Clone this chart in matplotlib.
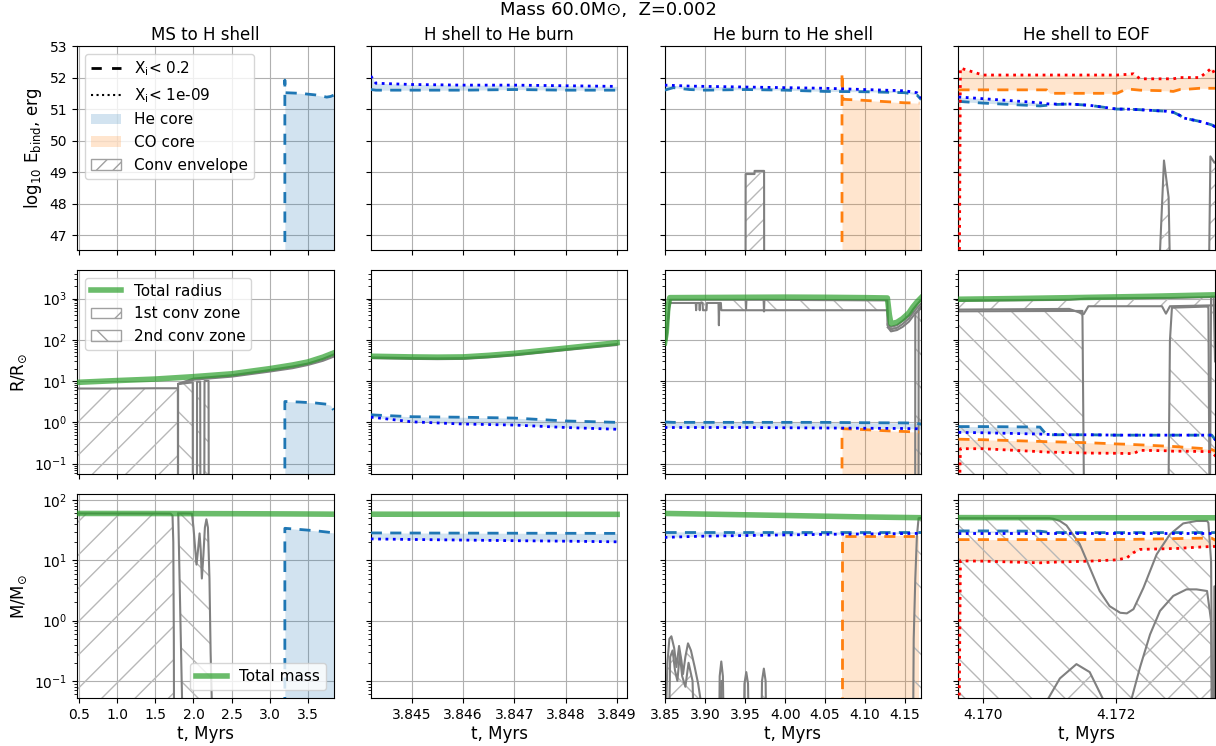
import numpy as np
import matplotlib
matplotlib.use("Agg")
import matplotlib.pyplot as plt
import matplotlib.patches as mpatches
from matplotlib.lines import Line2D
from matplotlib.ticker import FormatStrFormatter, FixedLocator

# ======================= DATA =======================
suptitle = "Mass 60.0M\u2299,  Z=0.002"
col_titles = ["MS to H shell", "H shell to He burn", "He burn to He shell", "He shell to EOF"]
row_ylabels = [r"log$_{10}$ E$_{\rm bind}$, erg", r"R/R$_{\odot}$", r"M/M$_{\odot}$"]
xlabel = "t, Myrs"
col_xlim = [(0.47, 3.84), (3.8442, 3.8492), (3.849, 4.1704), (4.16963, 4.1735)]
col_xticks = [[0.5, 1.0, 1.5, 2.0, 2.5, 3.0, 3.5],
              [3.845, 3.846, 3.847, 3.848, 3.849],
              [3.85, 3.90, 3.95, 4.00, 4.05, 4.10, 4.15],
              [4.170, 4.172]]
col_xfmt = ["%.1f", "%.3f", "%.2f", "%.3f"]
row_ylim = [(46.53, 53.0), (0.056, 4900.0), (0.052, 126.0)]
E_yticks = [47, 48, 49, 50, 51, 52, 53]
E_FLOOR = 46.0
LOG_FLOOR = 1e-3

# ---------- column 1: MS to H shell ----------
c1_t_tot = [0.47, 1.0, 1.5, 2.0, 2.5, 3.0, 3.3, 3.5, 3.7, 3.84]
c1_R_tot = [9.3, 10.3, 11.2, 12.8, 15.0, 20.0, 24.5, 29.0, 38.0, 48.0]
c1_M_tot = [60.0, 59.9, 59.8, 59.6, 59.4, 59.1, 58.9, 58.7, 58.5, 58.3]

c1_t_he = [3.2, 3.2, 3.205, 3.4, 3.6, 3.75, 3.8, 3.84]
c1_E_he = [40.0, 51.92, 51.52, 51.50, 51.45, 51.38, 51.40, 51.44]
c1_R_he = [1e-3, 3.2, 3.2, 3.1, 2.95, 2.75, 2.6, 2.0]
c1_M_he = [1e-3, 34.0, 34.0, 32.5, 31.0, 29.5, 29.0, 28.5]

c1_Rz1_t = [0.47, 1.0, 1.5, 1.795, 1.797]
c1_Rz1_top = [6.6, 6.6, 6.7, 6.7, 1e-3]
c1_Rz2_t = [1.797, 1.798, 1.99, 1.992, 2.045, 2.047, 2.088, 2.092, 2.141, 2.145, 2.198, 2.202]
c1_Rz2_top = [1e-3, 8.5, 9.3, 1e-3, 1e-3, 9.6, 9.7, 1e-3, 1e-3, 10.0, 10.1, 1e-3]
c1_Rz3_t = [1.80, 2.0, 2.5, 3.0, 3.3, 3.5, 3.7, 3.84]
c1_Rz3_top = [8.6, 11.5, 13.8, 18.5, 22.5, 26.5, 34.5, 44.0]
c1_Rz3_bot = [8.4, 10.8, 12.8, 17.0, 20.5, 24.5, 31.0, 39.0]

c1_Mz1_t = [0.47, 1.0, 1.5, 1.70, 1.725, 1.735, 1.742, 1.747]
c1_Mz1_top = [60.0, 59.9, 59.8, 59.6, 55.0, 20.0, 0.5, 1e-3]
c1_Mz2_t = [1.80, 1.8125, 1.825, 1.8375, 1.85, 1.86, 1.9, 1.96, 1.98, 2.0, 2.02, 2.04,
            2.06, 2.08, 2.095, 2.11, 2.13, 2.15, 2.17, 2.19, 2.21, 2.225, 2.24, 2.245]
c1_Mz2_top = [60.0, 60.0, 60.0, 60.0, 60.0, 60.0, 59.9, 59.8, 59.5, 35.0, 17.0, 8.5,
              15.0, 28.0, 15.0, 5.0, 12.0, 35.0, 48.0, 35.0, 5.0, 0.3, 0.05, 1e-3]
c1_Mz2_bot = [59.0, 10.0, 1.7, 0.29, 0.05, 1e-3, 1e-3, 1e-3, 1e-3, 1e-3, 1e-3, 1e-3,
              1e-3, 1e-3, 1e-3, 1e-3, 1e-3, 1e-3, 1e-3, 1e-3, 1e-3, 1e-3, 1e-3, 1e-3]

# ---------- column 2: H shell to He burn ----------
c2_t_tot = [3.8442, 3.845, 3.8455, 3.846, 3.8465, 3.847, 3.848, 3.849]
c2_R_tot = [40.0, 38.5, 38.0, 38.5, 42.0, 47.0, 63.0, 85.0]
c2_M_tot = [58.3, 58.2, 58.2, 58.2, 58.1, 58.1, 58.1, 58.0]
c2_env_top = [37.5, 36.0, 35.5, 36.0, 39.3, 44.0, 59.0, 79.0]
c2_env_bot = [36.0, 34.5, 34.0, 34.5, 37.5, 42.0, 56.5, 75.0]

c2_t_he = [3.8442, 3.8443, 3.845, 3.846, 3.847, 3.848, 3.849]
c2_E_hd = [51.62, 51.60, 51.60, 51.60, 51.62, 51.60, 51.60]
c2_E_hdot = [52.05, 51.82, 51.78, 51.76, 51.76, 51.74, 51.72]
c2_R_hd = [1.53, 1.50, 1.37, 1.33, 1.27, 1.08, 1.00]
c2_R_hdot = [1.33, 1.30, 1.03, 0.91, 0.86, 0.75, 0.68]
c2_M_hd = [28.5, 28.5, 28.4, 28.3, 28.2, 28.1, 28.0]
c2_M_hdot = [22.7, 22.6, 22.2, 21.7, 21.2, 20.8, 20.3]

# ---------- column 3: He burn to He shell ----------
c3_t_tot = [3.849, 3.851, 3.853, 3.8555, 3.9, 3.95, 4.0, 4.05, 4.1, 4.128, 4.1305, 4.1325,
            4.14, 4.147, 4.155, 4.16, 4.165, 4.1704]
c3_R_tot = [85, 150, 600, 1050, 1060, 1070, 1080, 1070, 1050, 1030, 400, 245,
            265, 325, 450, 625, 820, 1050]
c3_tM_tot = [3.849, 3.9, 3.95, 4.0, 4.05, 4.1, 4.1704]
c3_M_tot = [60.0, 58.5, 57.0, 55.5, 54.0, 52.5, 51.0]

c3_t_he = [3.849, 3.86, 3.88, 3.9, 3.95, 4.0, 4.05, 4.1, 4.15, 4.165, 4.1704]
c3_E_hd = [51.60, 51.68, 51.62, 51.60, 51.62, 51.60, 51.56, 51.55, 51.52, 51.45, 51.30]
c3_E_hdot = [51.76, 51.75, 51.73, 51.72, 51.70, 51.68, 51.66, 51.62, 51.58, 51.52, 51.35]
c3_R_hd = [1.02, 1.0, 1.0, 1.0, 1.0, 1.0, 1.0, 0.98, 0.97, 0.95, 0.90]
c3_R_hdot = [0.75, 0.75, 0.75, 0.75, 0.75, 0.74, 0.73, 0.72, 0.71, 0.70, 0.68]
c3_M_hd = [29.7, 29.7, 29.7, 29.7, 29.7, 29.7, 29.7, 29.7, 29.7, 29.7, 29.7]
c3_M_hdot = [24.0, 24.3, 24.8, 25.2, 25.8, 26.4, 27.0, 27.4, 27.8, 28.0, 28.2]

c3_t_co = [4.0712, 4.0712, 4.0725, 4.09, 4.11, 4.13, 4.15, 4.168]
c3_E_co = [40.0, 52.16, 51.31, 51.29, 51.26, 51.23, 51.20, 51.19]
c3_R_co = [1e-3, 0.72, 0.70, 0.68, 0.65, 0.62, 0.60, 0.58]
c3_M_co = [1e-3, 25.6, 25.6, 25.6, 25.6, 25.6, 25.6, 25.6]

c3_Ez_t = [3.9504, 3.9505, 3.9616, 3.9617, 3.9736, 3.9737]
c3_Ez_top = [46.0, 48.94, 48.94, 49.04, 49.04, 46.0]

c3_band_t = [3.851, 3.8555, 3.888, 3.8885, 3.889, 3.8925, 3.893, 3.8935, 3.8965, 3.897,
             3.9015, 3.902, 3.9165, 3.917, 3.9175, 3.9195, 3.92, 3.9505, 3.951, 3.9515,
             3.973, 3.9735, 3.974, 4.128, 4.1285]
c3_band_top = [100, 930, 930, 930, 930, 930, 930, 930, 930, 930,
               930, 930, 930, 930, 930, 930, 930, 930, 560, 930,
               930, 490, 930, 900, 240]
c3_band_bot = [100, 780, 780, 520, 780, 780, 520, 780, 780, 520,
               520, 780, 780, 225, 780, 780, 520, 520, 520, 520,
               520, 490, 520, 520, 240]
c3_dip_t = [4.1285, 4.1305, 4.1325, 4.14, 4.147, 4.155, 4.16, 4.165, 4.1704]
c3_dip_top = [240, 215, 205, 225, 285, 390, 540, 710, 930]
c3_dip_mid = [220, 195, 180, 195, 240, 330, 450, 590, 760]
c3_dip_bot = [200, 180, 160, 172, 205, 275, 370, 470, 590]
c3_Rs1_t = [4.1628, 4.1630, 4.1704]
c3_Rs1_top = [1e-3, 450, 600]
c3_Rs2_t = [4.1670, 4.1672, 4.1704]
c3_Rs2_top = [1e-3, 560, 650]

c3_b1_t = [3.8505, 3.8510, 3.8525, 3.855, 3.8575, 3.861, 3.8638, 3.8671, 3.870, 3.8721,
           3.875, 3.8783, 3.882, 3.8867, 3.891, 3.895, 3.897]
c3_b1_M = [1e-3, 0.04, 0.2, 0.5, 0.55, 0.35, 0.17, 0.38, 0.22, 0.13,
           0.25, 0.42, 0.32, 0.17, 0.09, 0.04, 1e-3]
c3_b2_t = [3.853, 3.856, 3.859, 3.862, 3.865, 3.868, 3.871, 3.875, 3.879, 3.884, 3.888]
c3_b2_M = [1e-3, 0.25, 0.32, 0.15, 0.10, 0.28, 0.12, 0.08, 0.20, 0.10, 1e-3]
c3_b3_t = [3.9165, 3.918, 3.920, 3.922, 3.9245]
c3_b3_M = [1e-3, 0.12, 0.21, 0.12, 1e-3]
c3_b3b_t = [3.9175, 3.920, 3.9225]
c3_b3b_M = [1e-3, 0.10, 1e-3]
c3_b4_t = [3.947, 3.949, 3.9513, 3.9535, 3.9555]
c3_b4_M = [1e-3, 0.09, 0.14, 0.09, 1e-3]
c3_b5_t = [3.969, 3.971, 3.9733, 3.9755, 3.9775]
c3_b5_M = [1e-3, 0.10, 0.16, 0.10, 1e-3]
c3_Mr_t = [4.1596, 4.161, 4.163, 4.165, 4.1671, 4.1704]
c3_Mr_top = [1e-3, 0.5, 5.0, 25.0, 50.0, 50.5]

# ---------- column 4: He shell to EOF ----------
c4_t_tot = [4.16963, 4.1705, 4.1715, 4.1725, 4.1735]
c4_R_tot = [960, 1000, 1060, 1130, 1230]
c4_M_tot = [51.2, 51.1, 51.0, 50.9, 50.8]

c4_tc = [4.16963, 4.16966, 4.1700, 4.17086, 4.17096, 4.17101, 4.1713, 4.17161, 4.17202, 4.17217,
         4.17227, 4.17237, 4.17277, 4.17287, 4.17297, 4.17302, 4.17327, 4.17345, 4.17351]
c4_E_hd = [51.24, 51.24, 51.19, 51.10, 51.12, 51.14, 51.16, 51.12, 51.00, 51.00,
           50.99, 50.98, 50.93, 50.90, 50.80, 50.72, 50.61, 50.50, 50.43]
c4_E_hdot = [51.38, 51.38, 51.33, 51.20, 51.17, 51.16, 51.16, 51.12, 51.00, 51.00,
             50.99, 50.98, 50.93, 50.90, 50.80, 50.72, 50.61, 50.50, 50.43]
c4_E_cd = [51.61, 51.61, 51.61, 51.61, 51.61, 51.50, 51.50, 51.50, 51.50, 51.64,
           51.62, 51.60, 51.58, 51.56, 51.62, 51.62, 51.66, 51.66, 51.66]
c4_E_cdot = [40.0, 52.30, 52.08, 52.08, 52.08, 52.08, 52.08, 52.08, 52.08, 52.10,
             52.12, 51.96, 51.96, 51.96, 52.00, 52.00, 52.00, 52.30, 52.05]
c4_R_hd = [0.79, 0.79, 0.79, 0.77, 0.50, 0.50, 0.50, 0.50, 0.49, 0.49,
           0.49, 0.49, 0.49, 0.49, 0.49, 0.49, 0.49, 0.49, 0.37]
c4_R_hdot = [0.57, 0.57, 0.56, 0.52, 0.51, 0.51, 0.50, 0.50, 0.49, 0.49,
             0.49, 0.49, 0.49, 0.49, 0.49, 0.49, 0.49, 0.49, 0.37]
c4_R_cd = [0.39, 0.39, 0.38, 0.345, 0.34, 0.34, 0.33, 0.32, 0.30, 0.295,
           0.29, 0.285, 0.265, 0.26, 0.255, 0.25, 0.235, 0.22, 0.20]
c4_R_cdot = [1e-3, 0.23, 0.23, 0.195, 0.19, 0.19, 0.185, 0.18, 0.178, 0.176,
             0.175, 0.21, 0.205, 0.20, 0.20, 0.20, 0.197, 0.195, 0.15]
c4_M_hd = [30.8, 30.8, 30.8, 30.5, 29.5, 29.0, 28.9, 28.9, 28.9, 28.9,
           28.9, 28.9, 28.9, 28.9, 28.9, 28.9, 28.9, 28.9, 28.9]
c4_M_hdot = [28.9, 28.9, 28.9, 28.9, 28.9, 28.9, 28.9, 28.9, 28.9, 28.9,
             28.9, 28.9, 28.9, 28.9, 28.9, 28.9, 28.9, 28.9, 28.9]
c4_M_cd = [22.1, 22.1, 22.1, 22.1, 22.1, 22.1, 22.1, 22.1, 22.1, 22.2,
           22.3, 22.4, 22.8, 22.9, 23.0, 23.1, 23.3, 23.3, 21.5]
c4_M_cdot = [1e-3, 9.8, 9.7, 9.1, 9.2, 9.3, 9.5, 9.7, 10.2, 11.0,
             13.4, 15.2, 15.6, 15.7, 15.8, 16.0, 16.6, 17.0, 17.0]

c4_Ez1_t = [4.17266, 4.17273, 4.17280, 4.17282]
c4_Ez1_top = [46.0, 49.37, 48.2, 46.0]
c4_Ez2_t = [4.17341, 4.17343, 4.17349, 4.1735]
c4_Ez2_top = [46.0, 49.5, 49.3, 49.3]

c4_Rz1_t = [4.16963, 4.1713, 4.17152, 4.17159, 4.1727, 4.17276, 4.17282, 4.1734, 4.1735]
c4_Rz1_top = [880, 930, 990, 1000, 1030, 1030, 1030, 1080, 1100]
c4_Rz1_bot = [540, 560, 420, 650, 650, 430, 650, 680, 680]
c4_Rz2_t = [4.16963, 4.1713, 4.1715, 4.17153, 4.17279, 4.17282, 4.17285, 4.1734, 4.17342]
c4_Rz2_top = [490, 500, 500, 1e-3, 1e-3, 97, 600, 640, 1e-3]
c4_Rz3_t = [4.17342, 4.17344, 4.17348, 4.1735]
c4_Rz3_top = [1e-3, 1100, 1100, 30]

c4_MzA_t = [4.16963, 4.1710, 4.17106, 4.17116, 4.17126, 4.17146, 4.17161, 4.17176, 4.17191,
            4.17207, 4.17217, 4.17227, 4.17242, 4.17262, 4.17282, 4.17302, 4.17322, 4.17338,
            4.1734, 4.17344, 4.17347]
c4_MzA_top = [50.0, 50.0, 49.0, 45.0, 38.0, 18.6, 7.6, 3.1, 1.74,
              1.35, 1.32, 1.55, 3.5, 12.6, 27.0, 41.0, 45.0, 45.0,
              42.0, 9.8, 1e-3]
c4_MzB_t = [4.17095, 4.17098, 4.17116, 4.17141, 4.17161, 4.17181, 4.17184]
c4_MzB_top = [1e-3, 0.05, 0.11, 0.19, 0.14, 0.05, 1e-3]
c4_MzC_t = [4.17222, 4.17224, 4.17237, 4.17252, 4.17267, 4.17287, 4.17307, 4.17322, 4.17338,
            4.17344, 4.17346]
c4_MzC_top = [1e-3, 0.05, 0.17, 0.59, 1.45, 2.57, 3.3, 3.3, 3.1, 1.0, 1e-3]
c4_MzR_t = [4.17348, 4.17349, 4.1735]
c4_MzR_top = [1e-3, 3.7, 3.7]

# ======================= STYLE =======================
HE_DASH = "#1f77b4"
HE_DOT = "blue"
CO_DASH = "#ff7f0e"
CO_DOT = "red"
DASHES = (0, (4.0, 3.0))
HATCH_COLOR = "#b8b8b8"
plt.rcParams["hatch.color"] = HATCH_COLOR
plt.rcParams["hatch.linewidth"] = 1.0


def core(ax, t, dash, dot, dcol, pcol, fcol, floor):
    lower = floor if dot is None else dot
    ax.fill_between(t, lower, dash, color=fcol, alpha=0.2, lw=0, zorder=1)
    ax.plot(t, dash, color=dcol, ls=DASHES, lw=2, zorder=3)
    if dot is not None:
        ax.plot(t, dot, color=pcol, ls=":", lw=2, zorder=3.1)


def zone(ax, t, top, bot, hatch, floor, lines=True):
    lower = floor if bot is None else bot
    ax.fill_between(t, lower, top, facecolor="none", edgecolor=HATCH_COLOR,
                    hatch=hatch, lw=0, zorder=1.5)
    if lines:
        ax.plot(t, top, color="gray", lw=1.5, zorder=2)
        if bot is not None:
            ax.plot(t, bot, color="gray", lw=1.5, zorder=2)


def total(ax, t, v):
    ax.plot(t, v, color="#2ca02c", lw=4, alpha=0.7, zorder=4)


fig, axes = plt.subplots(3, 4, sharex="col", sharey="row", figsize=(12.16, 7.46), dpi=100)
fig.subplots_adjust(left=0.0633, right=0.9992, bottom=0.0643, top=0.9383,
                    wspace=0.145, hspace=0.098)
axes[1, 0].set_yscale("log")
axes[2, 0].set_yscale("log")

# ---- column 1 ----
a0, a1, a2 = axes[0, 0], axes[1, 0], axes[2, 0]
core(a0, c1_t_he, c1_E_he, None, HE_DASH, HE_DOT, HE_DASH, E_FLOOR)
core(a1, c1_t_he, c1_R_he, None, HE_DASH, HE_DOT, HE_DASH, LOG_FLOOR)
core(a2, c1_t_he, c1_M_he, None, HE_DASH, HE_DOT, HE_DASH, LOG_FLOOR)
zone(a1, c1_Rz1_t, c1_Rz1_top, None, "/", LOG_FLOOR)
zone(a1, c1_Rz2_t, c1_Rz2_top, None, "\\", LOG_FLOOR)
zone(a1, c1_Rz3_t, c1_Rz3_top, c1_Rz3_bot, "/", LOG_FLOOR)
zone(a2, c1_Mz1_t, c1_Mz1_top, None, "/", LOG_FLOOR)
zone(a2, c1_Mz2_t, c1_Mz2_top, c1_Mz2_bot, "\\", LOG_FLOOR)
total(a1, c1_t_tot, c1_R_tot)
total(a2, c1_t_tot, c1_M_tot)

# ---- column 2 ----
a0, a1, a2 = axes[0, 1], axes[1, 1], axes[2, 1]
core(a0, c2_t_he, c2_E_hd, c2_E_hdot, HE_DASH, HE_DOT, HE_DASH, E_FLOOR)
core(a1, c2_t_he, c2_R_hd, c2_R_hdot, HE_DASH, HE_DOT, HE_DASH, LOG_FLOOR)
core(a2, c2_t_he, c2_M_hd, c2_M_hdot, HE_DASH, HE_DOT, HE_DASH, LOG_FLOOR)
zone(a1, c2_t_tot, c2_env_top, c2_env_bot, "/", LOG_FLOOR)
total(a1, c2_t_tot, c2_R_tot)
total(a2, c2_t_tot, c2_M_tot)

# ---- column 3 ----
a0, a1, a2 = axes[0, 2], axes[1, 2], axes[2, 2]
core(a0, c3_t_co, c3_E_co, None, CO_DASH, CO_DOT, CO_DASH, E_FLOOR)
core(a1, c3_t_co, c3_R_co, None, CO_DASH, CO_DOT, CO_DASH, LOG_FLOOR)
core(a2, c3_t_co, c3_M_co, None, CO_DASH, CO_DOT, CO_DASH, LOG_FLOOR)
core(a0, c3_t_he, c3_E_hd, c3_E_hdot, HE_DASH, HE_DOT, HE_DASH, E_FLOOR)
core(a1, c3_t_he, c3_R_hd, c3_R_hdot, HE_DASH, HE_DOT, HE_DASH, LOG_FLOOR)
core(a2, c3_t_he, c3_M_hd, c3_M_hdot, HE_DASH, HE_DOT, HE_DASH, LOG_FLOOR)
zone(a0, c3_Ez_t, c3_Ez_top, None, "//", E_FLOOR)
zone(a1, c3_band_t, c3_band_top, c3_band_bot, "\\", LOG_FLOOR)
zone(a1, c3_dip_t, c3_dip_top, c3_dip_bot, "\\", LOG_FLOOR)
a1.plot(c3_dip_t, c3_dip_mid, color="gray", lw=1.5, zorder=2)
zone(a1, c3_Rs1_t, c3_Rs1_top, None, "\\", LOG_FLOOR)
zone(a1, c3_Rs2_t, c3_Rs2_top, None, "\\", LOG_FLOOR)
zone(a2, c3_b1_t, c3_b1_M, None, "\\", LOG_FLOOR)
zone(a2, c3_b2_t, c3_b2_M, None, "/", LOG_FLOOR)
zone(a2, c3_b3_t, c3_b3_M, None, "\\", LOG_FLOOR)
zone(a2, c3_b3b_t, c3_b3b_M, None, "/", LOG_FLOOR)
zone(a2, c3_b4_t, c3_b4_M, None, "\\", LOG_FLOOR)
zone(a2, c3_b5_t, c3_b5_M, None, "\\", LOG_FLOOR)
zone(a2, c3_Mr_t, c3_Mr_top, None, "\\", LOG_FLOOR)
total(a1, c3_t_tot, c3_R_tot)
total(a2, c3_tM_tot, c3_M_tot)

# ---- column 4 ----
a0, a1, a2 = axes[0, 3], axes[1, 3], axes[2, 3]
core(a0, c4_tc, c4_E_cd, c4_E_cdot, CO_DASH, CO_DOT, CO_DASH, E_FLOOR)
core(a1, c4_tc, c4_R_cd, c4_R_cdot, CO_DASH, CO_DOT, CO_DASH, LOG_FLOOR)
core(a2, c4_tc, c4_M_cd, c4_M_cdot, CO_DASH, CO_DOT, CO_DASH, LOG_FLOOR)
core(a0, c4_tc, c4_E_hd, c4_E_hdot, HE_DASH, HE_DOT, HE_DASH, E_FLOOR)
core(a1, c4_tc, c4_R_hd, c4_R_hdot, HE_DASH, HE_DOT, HE_DASH, LOG_FLOOR)
core(a2, c4_tc, c4_M_hd, c4_M_hdot, HE_DASH, HE_DOT, HE_DASH, LOG_FLOOR)
zone(a0, c4_Ez1_t, c4_Ez1_top, None, "//", E_FLOOR)
zone(a0, c4_Ez2_t, c4_Ez2_top, None, "//", E_FLOOR)
zone(a1, c4_Rz1_t, c4_Rz1_top, c4_Rz1_bot, "/", LOG_FLOOR)
zone(a1, c4_Rz2_t, c4_Rz2_top, None, "\\", LOG_FLOOR)
zone(a1, c4_Rz3_t, c4_Rz3_top, None, "\\", LOG_FLOOR)
zone(a2, c4_MzA_t, c4_MzA_top, None, "\\", LOG_FLOOR)
zone(a2, c4_MzB_t, c4_MzB_top, None, "/", LOG_FLOOR)
zone(a2, c4_MzC_t, c4_MzC_top, None, "/", LOG_FLOOR)
zone(a2, c4_MzR_t, c4_MzR_top, None, "\\", LOG_FLOOR)
total(a1, c4_t_tot, c4_R_tot)
total(a2, c4_t_tot, c4_M_tot)

# ---- axes formatting ----
for r in range(3):
    axes[r, 0].set_ylim(*row_ylim[r])
    axes[r, 0].set_ylabel(row_ylabels[r], fontsize=12)
axes[0, 0].set_yticks(E_yticks)
for c in range(4):
    axes[0, c].set_title(col_titles[c], fontsize=12, pad=4)
    axes[2, c].set_xlim(*col_xlim[c])
    axes[2, c].xaxis.set_major_locator(FixedLocator(col_xticks[c]))
    axes[2, c].xaxis.set_major_formatter(FormatStrFormatter(col_xfmt[c]))
    axes[2, c].set_xlabel(xlabel, fontsize=12, labelpad=2)
for ax in axes.flat:
    ax.grid(True, color="#b0b0b0", lw=0.8)
    ax.set_axisbelow(True)

# ---- legends ----
leg1 = [Line2D([], [], color="k", ls=(0, (3.7, 3.7)), lw=2, label=r"X$_{\rm i}$< 0.2"),
        Line2D([], [], color="k", ls=":", lw=1.5, label=r"X$_{\rm i}$< 1e-09"),
        mpatches.Patch(facecolor=HE_DASH, alpha=0.2, lw=0, label="He core"),
        mpatches.Patch(facecolor=CO_DASH, alpha=0.2, lw=0, label="CO core"),
        mpatches.Patch(facecolor="none", edgecolor="#a0a0a0", hatch="//", label="Conv envelope")]
axes[0, 0].legend(handles=leg1, loc="upper left", fontsize=11)
leg2 = [Line2D([], [], color="#2ca02c", lw=4, alpha=0.7, label="Total radius"),
        mpatches.Patch(facecolor="none", edgecolor="#a0a0a0", hatch="/", label="1st conv zone"),
        mpatches.Patch(facecolor="none", edgecolor="#a0a0a0", hatch="\\", label="2nd conv zone")]
axes[1, 0].legend(handles=leg2, loc="upper left", fontsize=11)
leg3 = [Line2D([], [], color="#2ca02c", lw=4, alpha=0.7, label="Total mass")]
axes[2, 0].legend(handles=leg3, loc="lower right", fontsize=11)

fig.suptitle(suptitle, fontsize=13, y=0.998, va="top")

fig.savefig("out.png", dpi=100)
